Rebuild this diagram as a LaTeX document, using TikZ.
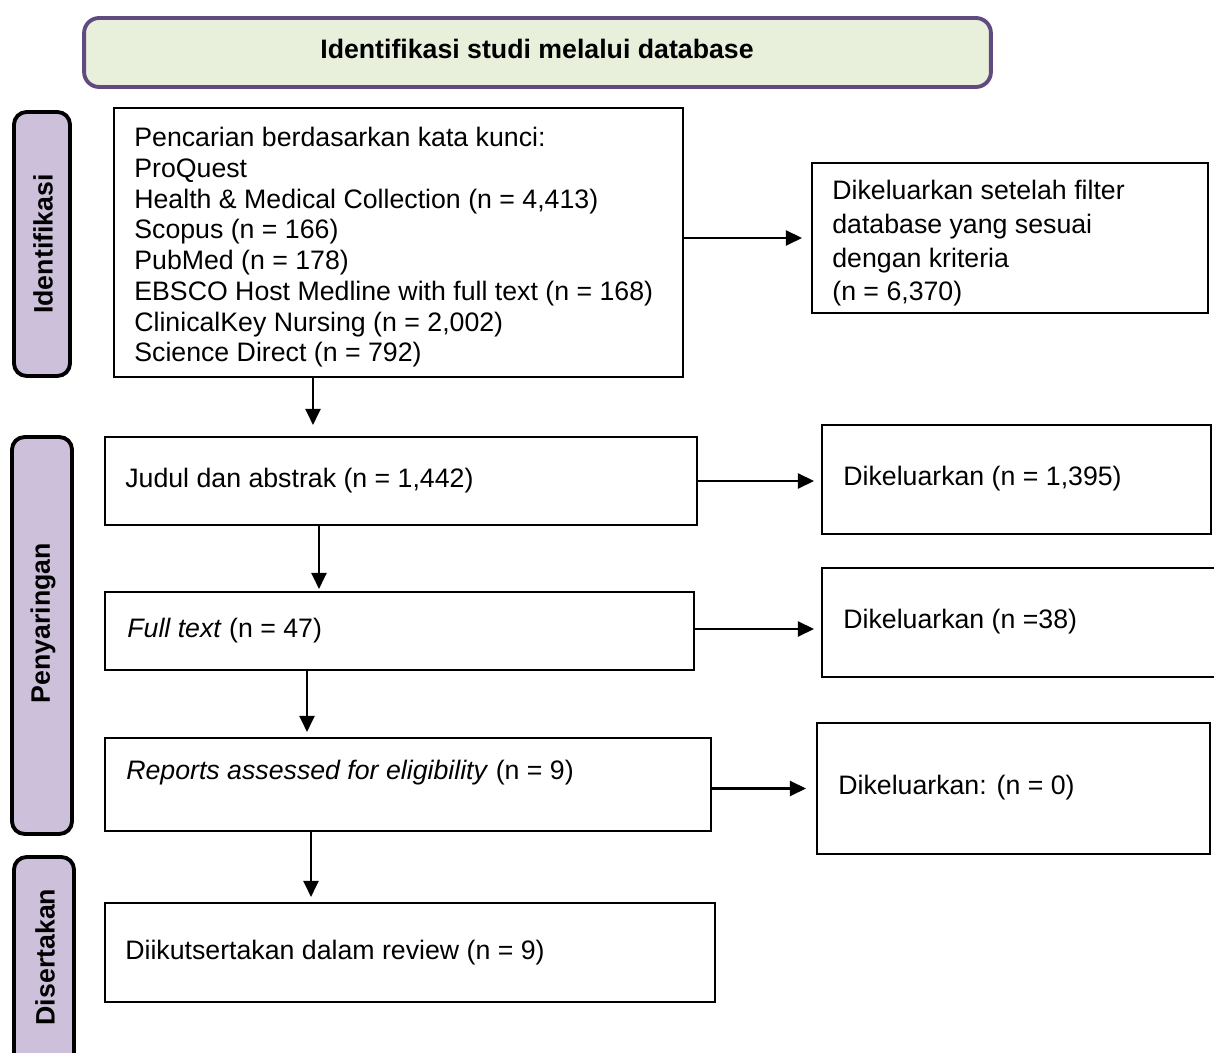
\documentclass[tikz,border=0pt]{standalone}
\usepackage{fontspec}
\setmainfont{Liberation Sans}
\usetikzlibrary{arrows.meta}
\definecolor{hdrfill}{HTML}{E8F0DC}
\definecolor{hdrline}{HTML}{5F4B80}
\definecolor{sidefill}{HTML}{CCC0DA}
\begin{document}
\begin{tikzpicture}[x=0.02cm,y=-0.02cm,
  every node/.style={font=\fontsize{15.2}{17.5}\selectfont},
  hdr/.style={draw=hdrline,line width=2.2pt,fill=hdrfill,rounded corners=0.3cm,inner sep=0pt},
  side/.style={draw=black,line width=2.2pt,fill=sidefill,rounded corners=0.25cm,inner sep=0pt},
  sidetxt/.style={rotate=90,inner sep=0pt,font=\fontsize{15.2}{17.5}\selectfont\bfseries},
  box/.style={draw=black,line width=1.2pt,inner sep=0pt},
  txt/.style={inner sep=0pt,anchor=west},
  mtxt/.style={inner sep=0pt,anchor=north west,align=left},
  arr/.style={line width=1.2pt,-{Triangle[length=0.32cm,width=0.3cm]}}
]
\useasboundingbox (0,0) rectangle (1214,1053);
\clip (0,0) rectangle (1214,1053);
\fill[white] (0,0) rectangle (1214,1053);

% header
\node[hdr,minimum width=18.14cm,minimum height=1.38cm] (hdr) at (537.5,52.5) {};
\node[inner sep=0pt,font=\fontsize{15.2}{17.5}\selectfont\bfseries] (hdrt) at (537,49) {Identifikasi studi melalui database};

% side bars
\node[side,minimum width=1.12cm,minimum height=5.28cm] (s1) at (42,244) {};
\node[sidetxt] (s1t) at (43,244) {Identifikasi};
\node[side,minimum width=1.2cm,minimum height=7.94cm] (s2) at (42,635.5) {};
\node[sidetxt] (s2t) at (43,623) {Penyaringan};
\node[side,minimum width=1.2cm,minimum height=4.36cm] (s3) at (44,966) {};
\node[sidetxt] (s3t) at (45,957) {Disertakan};

% main boxes
\node[box,minimum width=11.38cm,minimum height=5.38cm] (b1) at (398.5,242.5) {};
\node[mtxt] (b1t) at (134,127) {Pencarian berdasarkan kata kunci:\\ProQuest\\Health \& Medical Collection (n = 4,413)\\Scopus (n = 166)\\PubMed (n = 178)\\EBSCO Host Medline with full text (n = 168)\\ClinicalKey Nursing (n = 2,002)\\Science Direct (n = 792)};

\node[box,minimum width=7.92cm,minimum height=3.0cm] (r1) at (1010,238) {};
\node[mtxt,font=\fontsize{15.2}{19.3}\selectfont] (r1t) at (832,179.5) {Dikeluarkan setelah filter\\database yang sesuai\\dengan kriteria\\(n = 6,370)};

\node[box,minimum width=11.84cm,minimum height=1.76cm] (b2) at (401,481) {};
\node[txt] (b2t) at (125,481) {Judul dan abstrak (n = 1,442)};
\node[box,minimum width=7.78cm,minimum height=2.18cm] (r2) at (1016.5,479.5) {};
\node[txt] (r2t) at (843,479) {Dikeluarkan (n = 1,395)};

\node[box,minimum width=11.78cm,minimum height=1.56cm] (b3) at (399.5,631) {};
\node[txt] (b3t) at (127,631) {\textit{Full text} (n = 47)};
\node[box,minimum width=8.16cm,minimum height=2.18cm] (r3) at (1026,622.5) {};
\node[txt] (r3t) at (843,622) {Dikeluarkan (n =38)};

\node[box,minimum width=12.12cm,minimum height=1.86cm] (b4) at (408,784.5) {};
\node[txt] (b4t) at (126,773) {\textit{Reports assessed for eligibility} (n = 9)};
\node[box,minimum width=7.86cm,minimum height=2.62cm] (r4) at (1013.5,788.5) {};
\node[txt] (r4t) at (838,788) {Dikeluarkan: (n = 0)};

\node[box,minimum width=12.2cm,minimum height=1.98cm] (b5) at (410,952.5) {};
\node[txt] (b5t) at (125,953) {Diikutsertakan dalam review (n = 9)};

% horizontal arrows
\draw[arr,shorten >=0.18cm] (b1.east |- r1.west) -- (r1.west);
\draw[arr,shorten >=0.14cm] (b2.east) -- (b2.east -| r2.west);
\draw[arr,shorten >=0.14cm] (b3.east |- 0,629) coordinate (a3s) -- (a3s -| r3.west);
\draw[arr,shorten >=0.2cm] (r4.west -| b4.east) -- (r4.west);

% vertical arrows
\coordinate (x1) at (313,0);
\coordinate (x2) at (319,0);
\coordinate (x3) at (307,0);
\coordinate (x4) at (311,0);
\draw[arr,shorten >=0.22cm] (b1.south -| x1) -- (b2.north -| x1);
\draw[arr,shorten >=0.04cm] (b2.south -| x2) -- (b3.north -| x2);
\draw[arr,shorten >=0.1cm] (b3.south -| x3) -- (b4.north -| x3);
\draw[arr,shorten >=0.1cm] (b4.south -| x4) -- (b5.north -| x4);
\end{tikzpicture}
\end{document}
